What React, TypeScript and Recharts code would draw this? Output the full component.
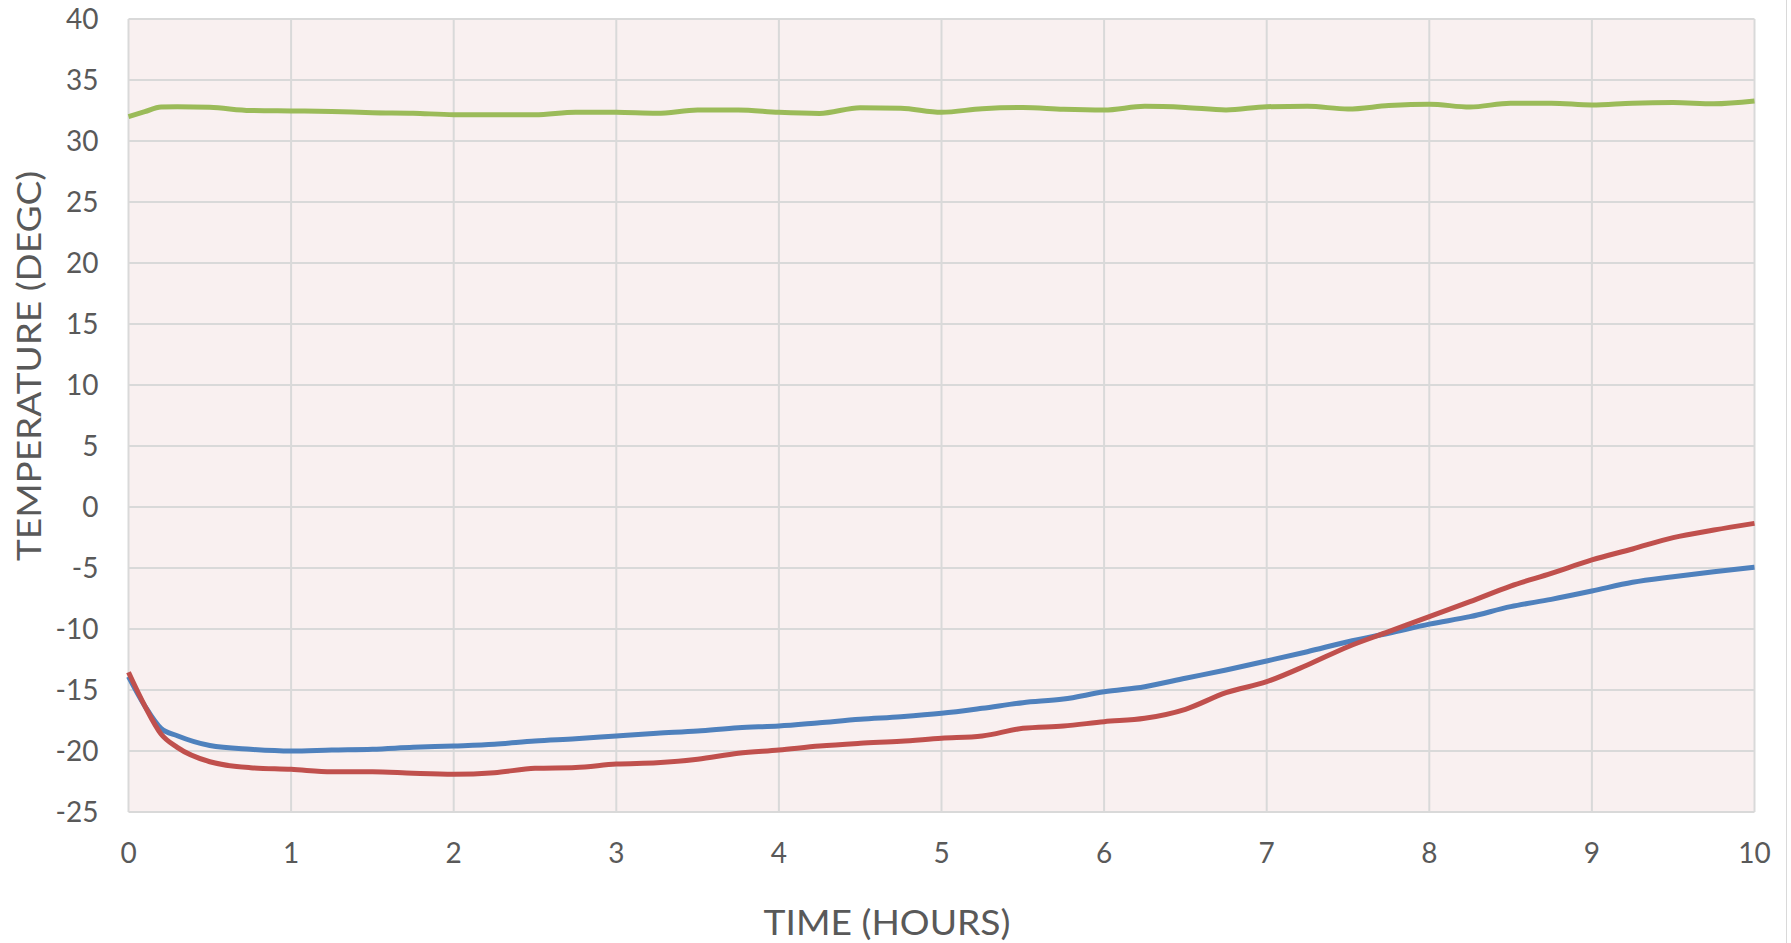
import React from "react";
import {
  LineChart,
  Line,
  CartesianGrid,
  XAxis,
  YAxis,
  Label,
} from "recharts";

// time in hours
const hours = [
  0, 0.1, 0.2, 0.3, 0.5, 0.75, 1, 1.25, 1.5, 1.75, 2, 2.25, 2.5, 2.75, 3, 3.25,
  3.5, 3.75, 4, 4.25, 4.5, 4.75, 5, 5.25, 5.5, 5.75, 6, 6.25, 6.5, 6.75, 7,
  7.25, 7.5, 7.75, 8, 8.25, 8.5, 8.75, 9, 9.25, 9.5, 9.75, 10,
];

const greenTemp = [
  32.0, 32.4, 32.78, 32.8, 32.76, 32.5, 32.46, 32.42, 32.32, 32.28, 32.16,
  32.16, 32.16, 32.36, 32.35, 32.27, 32.54, 32.55, 32.35, 32.26, 32.73, 32.68,
  32.35, 32.65, 32.75, 32.6, 32.54, 32.84, 32.75, 32.55, 32.81, 32.85, 32.62,
  32.9, 33.02, 32.78, 33.1, 33.1, 32.95, 33.1, 33.15, 33.05, 33.28,
];

const blueTemp = [
  -13.9, -16.3, -18.15, -18.75, -19.55, -19.86, -20.0, -19.92, -19.86, -19.7,
  -19.59, -19.45, -19.18, -19.0, -18.77, -18.55, -18.36, -18.09, -17.95,
  -17.68, -17.4, -17.19, -16.91, -16.5, -16.04, -15.74, -15.15, -14.73,
  -14.04, -13.36, -12.62, -11.86, -11.04, -10.35, -9.6, -8.99, -8.17, -7.57,
  -6.89, -6.17, -5.71, -5.3, -4.94,
];

const redTemp = [
  -13.55, -16.3, -18.6, -19.7, -20.88, -21.37, -21.5, -21.7, -21.7, -21.83,
  -21.91, -21.78, -21.42, -21.35, -21.07, -20.96, -20.68, -20.19, -19.92,
  -19.59, -19.37, -19.2, -18.96, -18.77, -18.14, -17.95, -17.6, -17.32,
  -16.58, -15.22, -14.32, -12.95, -11.45, -10.22, -8.98, -7.76, -6.48, -5.44,
  -4.34, -3.44, -2.51, -1.89, -1.34,
];

const xTicks = [0, 1, 2, 3, 4, 5, 6, 7, 8, 9, 10];
const yTicks = [-25, -20, -15, -10, -5, 0, 5, 10, 15, 20, 25, 30, 35, 40];

const data = hours.map((t, i) => ({
  t,
  green: greenTemp[i],
  blue: blueTemp[i],
  red: redTemp[i],
}));

const FONT = "Lato, 'Noto Sans', sans-serif";
const TEXT = "#595959";

const XTick = (props: any) => {
  const { x, y, payload } = props;
  return (
    <text x={x} y={y + 51} textAnchor="middle" fontFamily={FONT} fontSize={28} fill={TEXT}>
      {payload.value}
    </text>
  );
};

const YTick = (props: any) => {
  const { x, y, payload } = props;
  return (
    <text x={x - 30} y={y + 10} textAnchor="end" fontFamily={FONT} fontSize={28} fill={TEXT}>
      {payload.value}
    </text>
  );
};

export default function App() {
  return (
    <div style={{ position: "absolute", left: 0, top: 0, width: 1791, height: 943, background: "#fff" }}>
      <div
        style={{
          position: "absolute",
          left: 1786,
          top: 0,
          width: 1,
          height: 943,
          background: "#D9D9D9",
        }}
      />
      <LineChart
        width={1791}
        height={943}
        data={data}
        margin={{ top: 19, right: 36.5, bottom: 0, left: 0 }}
      >
        <CartesianGrid stroke="#D9D9D9" strokeWidth={2} fill="#F9F0F0" />
        <XAxis
          dataKey="t"
          type="number"
          domain={[0, 10]}
          ticks={xTicks}
          height={131}
          axisLine={false}
          tickLine={false}
          tickSize={0}
          tickMargin={0}
          tick={<XTick />}
          interval={0}
        >
          <Label
            content={() => (
              <text
                x={887}
                y={935}
                textAnchor="middle"
                fontFamily={FONT}
                fontSize={34}
                fill={TEXT}
                textLength={247}
                lengthAdjust="spacingAndGlyphs"
              >
                TIME (HOURS)
              </text>
            )}
          />
        </XAxis>
        <YAxis
          type="number"
          domain={[-25, 40]}
          ticks={yTicks}
          width={128.5}
          axisLine={false}
          tickLine={false}
          tickSize={0}
          tickMargin={0}
          tick={<YTick />}
          interval={0}
        >
          <Label
            content={() => (
              <text
                x={0}
                y={0}
                transform="translate(41,366) rotate(-90)"
                textAnchor="middle"
                fontFamily={FONT}
                fontSize={33}
                fill={TEXT}
                textLength={390}
                lengthAdjust="spacingAndGlyphs"
              >
                TEMPERATURE (DEGC)
              </text>
            )}
          />
        </YAxis>
        <Line
          type="monotone"
          dataKey="green"
          stroke="#9BBB59"
          strokeWidth={5}
          dot={false}
          isAnimationActive={false}
        />
        <Line
          type="monotone"
          dataKey="blue"
          stroke="#4F81BD"
          strokeWidth={5}
          dot={false}
          isAnimationActive={false}
        />
        <Line
          type="monotone"
          dataKey="red"
          stroke="#C0504D"
          strokeWidth={5}
          dot={false}
          isAnimationActive={false}
        />
      </LineChart>
    </div>
  );
}
